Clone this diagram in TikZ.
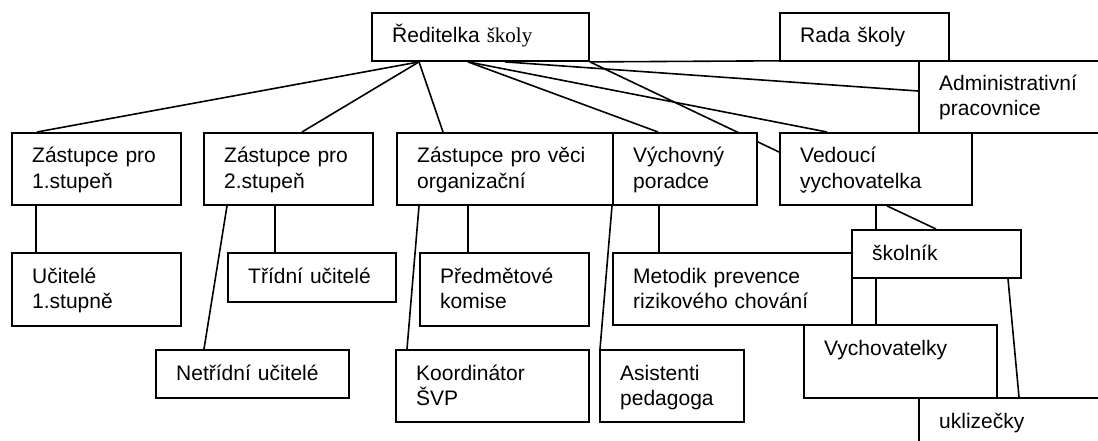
\documentclass[tikz,border=0pt]{standalone}
\usepackage{fontspec}
\setmainfont{Liberation Sans}
\newfontfamily\timesfont{Liberation Serif}
\usetikzlibrary{calc, backgrounds}

\begin{document}
\begin{tikzpicture}[
    % GLOBAL SETTINGS
    x=1pt, y=-1pt,
    % STYLES
    unit/.style={rectangle, draw=black, fill=white, line width=1.9pt, anchor=north west, inner sep=0pt},
    unit_label/.style={anchor=base west, inner sep=0pt, xshift=21pt, yshift=-31pt, text width=260pt, align=left, font=\fontsize{21}{25}\selectfont},
    edge/.style={draw, line width=1.6pt, -}
]

    \useasboundingbox (0,0) rectangle (1098,441);
    \clip (0,0) rectangle (1098,441);

    % Top: director, school board, administration
    \node[unit, minimum width=217pt, minimum height=48pt, label={[unit_label]north west:Ředitelka {\timesfont školy}}] (red) at (371,12) {};
    \node[unit, minimum width=169pt, minimum height=48pt, label={[unit_label]north west:Rada školy}] (rada) at (779,12) {};
    \node[unit, minimum width=220pt, minimum height=72pt, label={[unit_label]north west:Administrativní\\pracovnice}] (admin) at (918,60) {};

    % Second row
    \node[unit, minimum width=169pt, minimum height=72pt, label={[unit_label]north west:Zástupce pro\\1.stupeň}] (zas1) at (11,132) {};
    \node[unit, minimum width=169pt, minimum height=72pt, label={[unit_label]north west:Zástupce pro\\2.stupeň}] (zas2) at (203,132) {};
    \node[unit, minimum width=216pt, minimum height=72pt, label={[unit_label]north west:Zástupce pro věci\\organizační}] (zasorg) at (396,132) {};
    \node[unit, minimum width=144pt, minimum height=72pt, label={[unit_label]north west:Výchovný\\poradce}] (vych) at (612,132) {};
    \node[unit, minimum width=192pt, minimum height=72pt, label={[unit_label]north west:Vedoucí\\vychovatelka}] (ved) at (779,132) {};
    \node[anchor=base west, inner sep=0pt, font=\fontsize{21}{25}\selectfont] (caron) at (800,205) {ˇ};

    % Third row
    \node[unit, minimum width=169pt, minimum height=73pt, label={[unit_label]north west:Učitelé\\1.stupně}] (uc1) at (11,252) {};
    \node[unit, minimum width=168pt, minimum height=49pt, label={[unit_label]north west:Třídní učitelé}] (trid) at (227,252) {};
    \node[unit, minimum width=169pt, minimum height=73pt, label={[unit_label]north west:Předmětové\\komise}] (pred) at (419,252) {};
    \node[unit, minimum width=239pt, minimum height=72pt, label={[unit_label]north west:Metodik prevence\\rizikového chování}] (metod) at (612,252) {};
    \node[unit, minimum width=169pt, minimum height=48pt, label={[unit_label]north west:školník}] (skol) at (851,229) {};

    % Bottom row
    \node[unit, minimum width=193pt, minimum height=48pt, label={[unit_label]north west:Netřídní učitelé}] (netr) at (155,349) {};
    \node[unit, minimum width=193pt, minimum height=72pt, label={[unit_label]north west:Koordinátor\\ŠVP}] (koord) at (395,349) {};
    \node[unit, minimum width=144pt, minimum height=72pt, label={[unit_label]north west:Asistenti\\pedagoga}] (asist) at (599,349) {};
    \node[unit, minimum width=193pt, minimum height=73pt, label={[unit_label]north west:Vychovatelky}] (vychov) at (803,324) {};
    \node[unit, minimum width=220pt, minimum height=72pt, label={[unit_label]north west:uklizečky}] (ukl) at (918,397) {};

    % Connectors
    \begin{scope}[on background layer]
        \draw[edge] (red.south east) -- (admin.north west);
        \draw[edge] ($(red.south west)+(48,0)$) -- ($(zas1.north west)+(26,0)$);
        \draw[edge] ($(red.south west)+(48,0)$) -- ($(zas2.north west)+(99,0)$);
        \draw[edge] ($(red.south west)+(48,0)$) -- ($(zasorg.north west)+(47,0)$);
        \draw[edge] ($(red.south west)+(97,0)$) -- ($(vych.north west)+(46,0)$);
        \draw[edge] ($(red.south west)+(97,0)$) -- ($(ved.north west)+(48,0)$);
        \draw[edge] ($(red.south west)+(134,0)$) -- ($(admin.north west)+(0,31)$);
        \draw[edge] (red.south east) -- ($(ved.north west)+(0,20)$);

        \draw[edge] ($(zas1.south west)+(25,0)$) -- ($(uc1.north west)+(25,0)$);
        \draw[edge] ($(zas2.south west)+(72,0)$) -- ($(trid.north west)+(48,0)$);
        \draw[edge] ($(zas2.south west)+(24,0)$) -- ($(netr.north west)+(49,0)$);
        \draw[edge] ($(zasorg.south west)+(72,0)$) -- ($(pred.north west)+(49,0)$);
        \draw[edge] ($(zasorg.south west)+(23,0)$) -- ($(koord.north west)+(12,0)$);
        \draw[edge] (vych.south west) -- ($(asist.north west)+(1,0)$);
        \draw[edge] ($(vych.south west)+(47,0)$) -- ($(metod.north west)+(47,0)$);

        \draw[edge] ($(ved.south west)+(97,0)$) -- ($(vychov.north west)+(73,0)$);
        \draw[edge] ($(ved.south west)+(108,0)$) -- ($(skol.north west)+(85,0)$);
        \draw[edge] ($(skol.south west)+(157,0)$) -- ($(ukl.north west)+(101,0)$);
    \end{scope}

\end{tikzpicture}
\end{document}
